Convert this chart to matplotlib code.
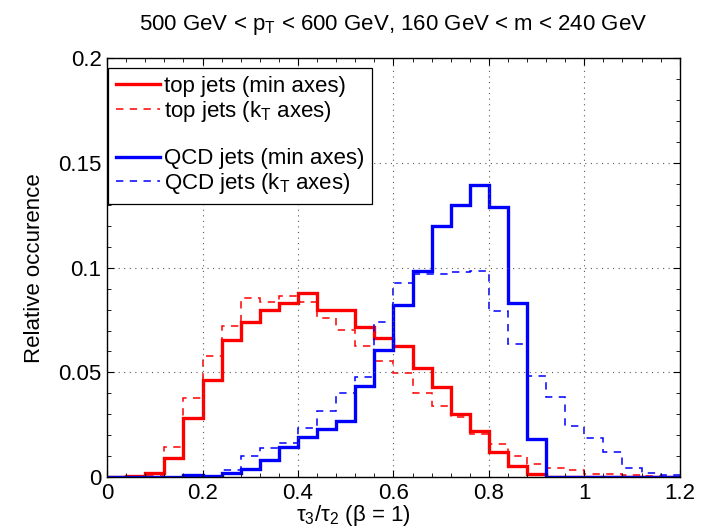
"""Recreate tau3/tau2 N-subjettiness histogram (top vs QCD, min vs kT axes)."""

import matplotlib
matplotlib.use("Agg")
import matplotlib.pyplot as plt
import numpy as np
from matplotlib.lines import Line2D

plt.rcParams["font.family"] = ["Liberation Sans", "DejaVu Sans"]
plt.rcParams["mathtext.fontset"] = "custom"
plt.rcParams["mathtext.rm"] = "Liberation Sans"
plt.rcParams["mathtext.it"] = "Liberation Sans"
plt.rcParams["mathtext.default"] = "regular"

# bin edges, width 0.04 from 0 to 1.2
edges = np.round(np.arange(31) * 0.04, 2)

top_min = [0, 0.0005, 0.002, 0.009, 0.0283, 0.0463, 0.0657, 0.074, 0.0797, 0.0832,
           0.0877, 0.0797, 0.0797, 0.0718, 0.0662, 0.0627, 0.0522, 0.043, 0.0301, 0.0222,
           0.0122, 0.0055, 0.0013, 0, 0, 0, 0, 0, 0, 0]
top_kt = [0, 0, 0.001, 0.0142, 0.038, 0.0579, 0.0722, 0.0854, 0.0835, 0.0866,
          0.0835, 0.0762, 0.0702, 0.0625, 0.0555, 0.0495, 0.0403, 0.0339, 0.0288, 0.0208,
          0.0157, 0.010, 0.0062, 0.0046, 0.0033, 0.0014, 0.0014, 0.001, 0.0005, 0]
qcd_min = [0, 0, 0, 0.0003, 0.0012, 0.0006, 0.002, 0.0037, 0.0084, 0.0145,
           0.0192, 0.0232, 0.0267, 0.0436, 0.0608, 0.0821, 0.0986, 0.1197, 0.1301, 0.1394,
           0.129, 0.0829, 0.0183, 0, 0, 0, 0, 0, 0, 0]
qcd_kt = [0, 0, 0, 0, 0.0005, 0.0005, 0.0033, 0.010, 0.014, 0.0164,
          0.0236, 0.0315, 0.0404, 0.0476, 0.0739, 0.0928, 0.0972, 0.0972, 0.098, 0.0983,
          0.0792, 0.0638, 0.0482, 0.0383, 0.0244, 0.0188, 0.0118, 0.0045, 0.0018, 0.0011]

labels = [r"top jets (min axes)", r"top jets (k$_T$ axes)",
          r"QCD jets (min axes)", r"QCD jets (k$_T$ axes)"]

FS = 16
LW_SOLID = 2.4
LW_DASH = 1.1
dash = (0, (4.8, 4.2))

fig = plt.figure(figsize=(7.14, 5.29), dpi=100)
ax = fig.add_axes([0.150, 0.098, 0.802, 0.792])

ax.stairs(top_min, edges, color="red", linewidth=LW_SOLID, baseline=None)
ax.stairs(top_kt, edges, color="red", linewidth=LW_DASH, linestyle=dash, baseline=None)
ax.stairs(qcd_min, edges, color="blue", linewidth=LW_SOLID, baseline=None)
ax.stairs(qcd_kt, edges, color="blue", linewidth=LW_DASH, linestyle=dash, baseline=None)

ax.set_xlim(0, 1.2)
ax.set_ylim(0, 0.2)
ax.set_xticks([0, 0.2, 0.4, 0.6, 0.8, 1, 1.2])
ax.set_xticklabels(["0", "0.2", "0.4", "0.6", "0.8", "1", "1.2"])
ax.set_yticks([0, 0.05, 0.1, 0.15, 0.2])
ax.set_yticklabels(["0", "0.05", "0.1", "0.15", "0.2"])
ax.set_xticks(np.round(np.arange(31) * 0.04, 2), minor=True)
ax.set_yticks(np.round(np.arange(21) * 0.01, 2), minor=True)
ax.tick_params(which="both", direction="in", top=True, right=True, labelsize=FS)
ax.tick_params(which="major", length=5, pad=4)
ax.tick_params(which="minor", length=3)
ax.grid(True, which="major", linestyle=(0, (1, 4)), color="0.35", linewidth=0.8)
for s in ax.spines.values():
    s.set_linewidth(1.0)

ax.set_xlabel(r"$\tau_3/\tau_2$ ($\beta$ = 1)", fontsize=FS)
ax.xaxis.set_label_coords(0.43, -0.062)
ax.set_ylabel("Relative occurence", fontsize=FS)
ax.yaxis.set_label_coords(-0.108, 0.5)
ax.set_title(r"500 GeV < p$_T$ < 600 GeV, 160 GeV < m < 240 GeV", fontsize=FS, pad=20)

handles = [
    Line2D([], [], color="red", linewidth=LW_SOLID),
    Line2D([], [], color="red", linewidth=LW_DASH, linestyle=dash),
    Line2D([], [], color="none"),
    Line2D([], [], color="blue", linewidth=LW_SOLID),
    Line2D([], [], color="blue", linewidth=LW_DASH, linestyle=dash),
]
leg_labels = [labels[0], labels[1], "", labels[2], labels[3]]
leg = ax.legend(handles, leg_labels, loc="upper left", fontsize=FS, frameon=True,
                fancybox=False, edgecolor="black", framealpha=1, borderaxespad=0.0,
                handlelength=2.0, handletextpad=0.15, labelspacing=0.08,
                borderpad=0.35, bbox_to_anchor=(0.002, 0.976))
leg.get_frame().set_linewidth(0.9)

fig.savefig("out.png", dpi=100)
